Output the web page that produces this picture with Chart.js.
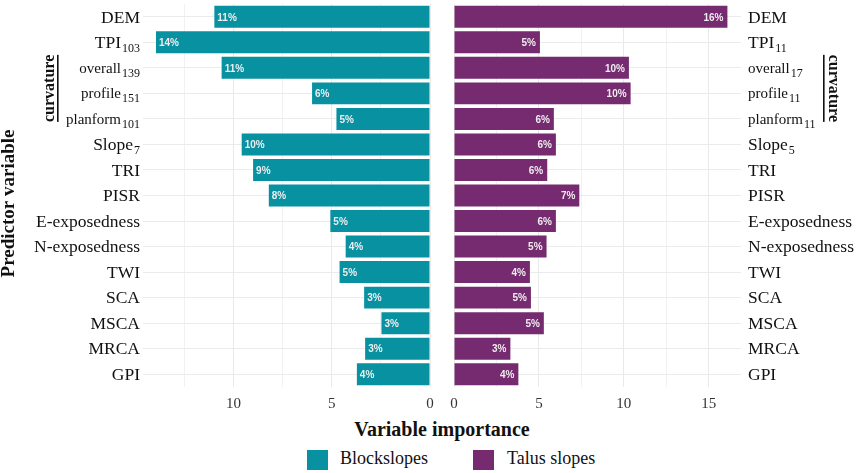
<!DOCTYPE html>
<html>
<head>
<meta charset="utf-8">
<script src="https://cdn.jsdelivr.net/npm/chart.js@4.4.1/dist/chart.umd.min.js"></script>
<style>
  html, body { margin: 0; padding: 0; background: #fff; }
  body { width: 858px; height: 473px; position: relative; overflow: hidden; font-family: "Liberation Serif", "Times New Roman", serif; color: #111; }
  #left { position: absolute; left: 0; top: 0; }
  #right { position: absolute; left: 442px; top: 0; }
  .xtitle { position: absolute; left: 342px; width: 200px; top: 417px; line-height: 24px; text-align: center; font-weight: bold; font-size: 20px; }
  .sw { position: absolute; top: 450px; width: 21px; height: 20px; }
  .lg { position: absolute; top: 448px; font-size: 18px; line-height: 20px; }
</style>
</head>
<body>
<canvas id="left" width="442" height="415"></canvas>
<canvas id="right" width="416" height="415"></canvas>
<div class="xtitle">Variable importance</div>
<div class="sw" style="left:307px;background:#0891a1"></div>
<div class="lg" style="left:340px">Blockslopes</div>
<div class="sw" style="left:473px;background:#762a70"></div>
<div class="lg" style="left:507px">Talus slopes</div>
<script>
// ==============================
// Datos
// ==============================
const predictors = ['DEM', 'TPI', 'overall', 'profile', 'planform', 'Slope', 'TRI', 'PISR',
  'E-exposedness', 'N-exposedness', 'TWI', 'SCA', 'MSCA', 'MRCA', 'GPI'];
const blockSubs = ['', '103', '139', '151', '101', '7', '', '', '', '', '', '', '', '', ''];
const talusSubs = ['', '11', '17', '11', '11', '5', '', '', '', '', '', '', '', '', ''];
const curvatureRows = ['overall', 'profile', 'planform'];

const blockValues = [10.97, 13.94, 10.6, 6.0, 4.76, 9.58, 9.0, 8.2, 5.07, 4.29, 4.6, 3.35, 2.47, 3.3, 3.72];
const blockLabels = ['11%', '14%', '11%', '6%', '5%', '10%', '9%', '8%', '5%', '4%', '5%', '3%', '3%', '3%', '4%'];
const talusValues = [16.1, 5.06, 10.3, 10.4, 5.88, 6.0, 5.49, 7.38, 6.0, 5.45, 4.47, 4.53, 5.29, 3.32, 3.79];
const talusLabels = ['16%', '5%', '10%', '10%', '6%', '6%', '6%', '7%', '6%', '5%', '4%', '5%', '5%', '3%', '4%'];

const blockMax = 14.6;
const talusMax = 16.9;

const TEAL = '#0891a1';
const PURPLE = '#762a70';
const SERIF = '"Liberation Serif", "Times New Roman", serif';
const SANS = '"Liberation Sans", Arial, sans-serif';

// Etiqueta con subíndice
function drawPredictor(ctx, base, sub, x, y, align, size) {
  ctx.font = size + 'px ' + SERIF;
  const bw = ctx.measureText(base).width;
  ctx.font = '12px ' + SERIF;
  const sw = sub ? ctx.measureText(sub).width + 1 : 0;
  const x0 = align === 'right' ? x - bw - sw : x;
  const baseline = y + size * 0.33;
  ctx.textAlign = 'left';
  ctx.textBaseline = 'alphabetic';
  ctx.fillStyle = '#111';
  ctx.font = size + 'px ' + SERIF;
  ctx.fillText(base, x0, baseline);
  if (sub) {
    ctx.font = '12px ' + SERIF;
    ctx.fillText(sub, x0 + bw + 1, baseline + 4);
  }
}

// Plugin: etiquetas de eje, porcentajes y "curvature"
function panelPlugin(side) {
  return {
    id: 'panel_' + side,
    afterDatasetsDraw(chart) {
      const ctx = chart.ctx;
      const meta = chart.getDatasetMeta(0);
      const labels = side === 'left' ? blockLabels : talusLabels;
      ctx.save();
      ctx.font = 'bold 10px ' + SANS;
      ctx.fillStyle = '#eeeeee';
      ctx.textBaseline = 'middle';
      meta.data.forEach((bar, i) => {
        if (side === 'left') {
          ctx.textAlign = 'left';
          ctx.fillText(labels[i], bar.x + 3, bar.y + 1);
        } else {
          ctx.textAlign = 'right';
          ctx.fillText(labels[i], bar.x - 4, bar.y + 1);
        }
      });
      ctx.restore();
    },
    afterDraw(chart) {
      const ctx = chart.ctx;
      const y = chart.scales.y;
      const subs = side === 'left' ? blockSubs : talusSubs;
      ctx.save();
      predictors.forEach((p, i) => {
        const py = y.getPixelForValue(i);
        const size = curvatureRows.includes(p) ? 15 : 17.5;
        if (side === 'left') drawPredictor(ctx, p, subs[i], chart.chartArea.left - 3, py, 'right', size);
        else drawPredictor(ctx, p, subs[i], chart.chartArea.right + 7, py, 'left', size);
      });

      // Corchete "curvature"
      const y1 = y.getPixelForValue(predictors.indexOf('overall')) - 13;
      const y2 = y.getPixelForValue(predictors.indexOf('planform')) + 3;
      const lineX = side === 'left' ? 57 : 381;
      const textX = side === 'left' ? 50 : 391;
      ctx.fillStyle = '#111';
      ctx.fillRect(lineX, y1, 1.6, y2 - y1);
      ctx.save();
      ctx.translate(textX, (y1 + y2) / 2);
      ctx.rotate(side === 'left' ? -Math.PI / 2 : Math.PI / 2);
      ctx.font = 'bold 16px ' + SERIF;
      ctx.textAlign = 'center';
      ctx.textBaseline = 'middle';
      ctx.fillText('curvature', 0, 0);
      ctx.restore();

      // Título del eje Y
      if (side === 'left') {
        ctx.save();
        ctx.translate(9, (chart.chartArea.top + chart.chartArea.bottom) / 2 + 8);
        ctx.rotate(-Math.PI / 2);
        ctx.font = 'bold 19px ' + SERIF;
        ctx.textAlign = 'center';
        ctx.textBaseline = 'middle';
        ctx.fillText('Predictor variable', 0, 0);
        ctx.restore();
      }
      ctx.restore();
    }
  };
}

function makePanel(canvasId, side) {
  const left = side === 'left';
  return new Chart(document.getElementById(canvasId), {
    type: 'bar',
    data: {
      labels: predictors,
      datasets: [{
        data: left ? blockValues : talusValues,
        backgroundColor: left ? TEAL : PURPLE,
        borderWidth: 0,
        barPercentage: 0.86,
        categoryPercentage: 1.0
      }]
    },
    options: {
      indexAxis: 'y',
      responsive: false,
      animation: false,
      layout: {
        padding: left ? { left: 143, right: 12, top: 4, bottom: 0 }
                      : { left: 12, right: 117, top: 4, bottom: 0 }
      },
      plugins: { legend: { display: false }, tooltip: { enabled: false } },
      scales: {
        x: {
          reverse: left,
          min: 0,
          max: left ? blockMax : talusMax,
          afterFit: s => { s.height = 28; },
          border: { display: false },
          grid: {
            drawTicks: false,
            color: ctx => (ctx.tick && ctx.tick.value % 5 === 0) ? '#e9e9e9' : '#f1f1f1',
            lineWidth: 1
          },
          ticks: {
            stepSize: 2.5,
            includeBounds: false,
            maxRotation: 0,
            autoSkip: false,
            padding: 8,
            color: '#333',
            font: { family: SERIF, size: 15 },
            callback: v => (v % 5 === 0 ? String(v) : '')
          }
        },
        y: {
          position: left ? 'left' : 'right',
          afterFit: s => { s.width = 0; },
          border: { display: false },
          grid: { offset: false, drawTicks: false, color: '#ebebeb', lineWidth: 1 },
          ticks: { display: false }
        }
      }
    },
    plugins: [panelPlugin(side)]
  });
}

makePanel('left', 'left');
makePanel('right', 'right');
</script>
</body>
</html>
